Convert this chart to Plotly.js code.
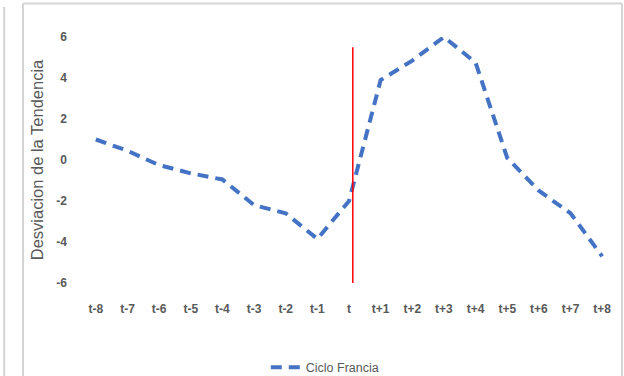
<!DOCTYPE html>
<html>
<head>
<meta charset="utf-8">
<script src="https://cdn.plot.ly/plotly-3.0.1.min.js"></script>
<style>html,body{margin:0;padding:0;background:#fff;}#chart{width:624px;height:376px;}</style>
</head>
<body>
<div id="chart"></div>
<script>
const categories = ["t-8","t-7","t-6","t-5","t-4","t-3","t-2","t-1","t","t+1","t+2","t+3","t+4","t+5","t+6","t+7","t+8"];
const cicloFrancia = [1.0, 0.45, -0.25, -0.65, -0.95, -2.2, -2.6, -3.85, -2.0, 3.9, 4.85, 6.0, 4.75, 0.1, -1.5, -2.6, -4.7];
const markerLineX = [8.12, 8.12];
const markerLineY = [5.5, -6.2];
const yTicks = [-6, -4, -2, 0, 2, 4, 6];
const yTickLabels = ["-6", "-4", "-2", "0", "2", "4", "6"];

const idx = categories.map((_, i) => i);

const traces = [
  {
    x: idx, y: cicloFrancia, type: "scatter", mode: "lines", name: "Ciclo Francia",
    line: {color: "#4472C4", width: 4, dash: "11px,7px"},
    cliponaxis: false
  },
  {
    x: markerLineX, y: markerLineY, type: "scatter", mode: "lines", showlegend: false,
    line: {color: "#FF0000", width: 1.5}, cliponaxis: false, hoverinfo: "skip"
  }
];

const gray = "#595959";
const border = "#D4D4D4";
const layout = {
  width: 624, height: 376,
  margin: {l: 80, r: 6, t: 37, b: 93, autoexpand: false},
  paper_bgcolor: "#fff", plot_bgcolor: "#fff",
  font: {family: "Liberation Sans, Arial, sans-serif", color: gray},
  xaxis: {
    range: [-0.5, 16.5], tickvals: idx, ticktext: categories,
    showgrid: false, zeroline: false, showline: false, ticks: "",
    tickfont: {size: 12, color: gray, weight: "bold"},
    ticklabelstandoff: 17, fixedrange: true, automargin: false
  },
  yaxis: {
    range: [-6, 6], tickvals: yTicks, ticktext: yTickLabels,
    showgrid: false, zeroline: false, showline: false, ticks: "",
    tickfont: {size: 12, color: gray, weight: "bold"},
    ticklabelstandoff: 12,
    title: {text: "Desviacion de la Tendencia", font: {size: 16.5, color: gray}, standoff: 8},
    fixedrange: true, automargin: false
  },
  showlegend: true,
  legend: {
    orientation: "h", x: 0.455, xanchor: "center", y: -0.283, yanchor: "top",
    font: {size: 12.5, color: gray}, bgcolor: "rgba(0,0,0,0)"
  },
  shapes: [
    {type: "line", xref: "paper", yref: "paper", x0: -0.106, x1: -0.106, y0: -0.5, y1: 1.136, line: {color: border, width: 2}},
    {type: "line", xref: "paper", yref: "paper", x0: -0.106, x1: 1.0074, y0: 1.136, y1: 1.136, line: {color: border, width: 2}},
    {type: "line", xref: "paper", yref: "paper", x0: 1.0074, x1: 1.0074, y0: -0.5, y1: 1.136, line: {color: border, width: 2}},
    {type: "line", xref: "paper", yref: "paper", x0: -0.141, x1: -0.141, y0: -0.5, y1: 1.122, line: {color: border, width: 2}}
  ]
};

Plotly.newPlot("chart", traces, layout, {staticPlot: true, displayModeBar: false});
</script>
</body>
</html>
